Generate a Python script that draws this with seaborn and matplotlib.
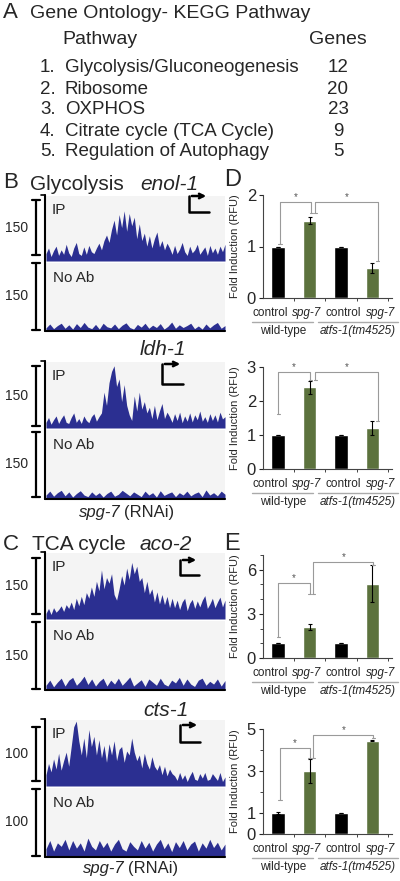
import numpy as np
import pandas as pd
import matplotlib
matplotlib.use("Agg")
import matplotlib.pyplot as plt
import seaborn as sns
from matplotlib.lines import Line2D
from matplotlib.patches import FancyArrowPatch
from matplotlib.ticker import MultipleLocator

sns.set_style("white")
plt.rcParams["font.family"] = ["Liberation Sans", "DejaVu Sans"]

W, H = 400, 881

# -----------------------------
# Data
# -----------------------------
pathways = ["Glycolysis/Gluconeogenesis", "Ribosome", "OXPHOS",
            "Citrate cycle (TCA Cycle)", "Regulation of Autophagy"]
pathway_genes = [12, 20, 23, 9, 5]

# ChIP tracks (reads per bin)
enol_ip = [20, 35, 12, 28, 40, 15, 30, 18, 45, 22, 12, 35, 50, 20, 15, 38, 18, 42, 25, 20, 35, 48,
           30, 55, 70, 50, 85,
           110, 70, 125, 90, 135, 80, 128, 95, 118, 60, 100, 55,
           75, 40, 68, 35, 60, 78, 38, 55, 30, 48,
           35, 18, 42, 20, 32, 50, 25, 15, 40, 22, 30, 45, 18, 28, 38, 15, 42, 22, 35, 18, 40, 25, 45]
enol_noab = [8, 18, 6, 14, 20, 7, 16, 5, 19, 9, 22, 10, 6, 17, 5, 20, 11, 8, 18, 6, 15, 21, 9, 5,
             17, 10, 20, 7, 15, 9, 19, 5, 12, 23, 7, 16, 9, 14, 20, 6, 13, 5, 18, 8, 16, 22, 7, 14]
ldh_ip = [15, 28, 10, 22, 32, 12, 25, 35, 15, 12, 28, 40, 15, 25, 12, 32, 20, 14, 30, 38, 18, 30,
          40, 95, 60, 120, 150, 165, 110, 130, 70, 115, 60, 35, 20, 85, 45, 95, 50, 70, 40,
          55, 25, 60, 22, 45, 65, 25, 42,
          30, 15, 38, 20, 42, 14, 32, 18, 40, 16, 35, 22, 45, 18, 30, 15, 38, 20, 35, 16, 42, 24, 30]
ldh_noab = [10, 20, 7, 16, 22, 8, 18, 5, 14, 21, 10, 6, 18, 9, 16, 5, 14, 20, 7, 12, 22, 15, 8, 18,
            12, 6, 20, 10, 16, 5, 21, 9, 14, 18, 6, 16, 10, 20, 8, 14, 18, 6, 23, 10, 16, 8, 20, 12]
aco_ip = [15, 28, 12, 30, 18, 25, 35, 20, 38, 28, 45, 25, 55, 35, 60, 38, 70, 55,
          85, 60, 100, 75, 130, 80, 110, 95, 120, 65, 50, 80,
          115, 90, 135, 105, 150, 120, 140, 100, 110, 70, 100, 65,
          80, 45, 72, 40, 65, 38, 60, 30, 55,
          30, 50, 25, 45, 55, 22, 42, 52, 28, 48, 32, 50, 62, 28, 40, 55, 30, 45, 58, 32, 50]
aco_noab = [12, 25, 8, 20, 30, 10, 25, 32, 12, 22, 35, 14, 28, 10, 22, 30, 10, 25, 15, 30, 12, 22, 33, 10,
            18, 26, 9, 28, 20, 12, 30, 15, 10, 25, 18, 32, 12, 28, 15, 9, 25, 30, 12, 22, 15, 28, 10, 24]
cts_ip = [20, 40, 25, 48, 30, 58, 28, 45, 60, 35, 70, 105, 115, 80, 55, 85, 50, 100, 70, 88, 55, 82,
          50, 72, 42, 75, 55, 80, 45, 65, 70, 42, 62, 55, 85, 60, 45,
          55, 32, 58, 40, 30, 52, 35, 28, 38, 20, 35, 18, 30, 22,
          18, 10, 24, 12, 20, 8, 18, 26, 12, 10, 22, 14, 24, 10, 12, 22, 16, 10, 24, 8, 16]
cts_noab = [14, 28, 10, 24, 18, 30, 12, 28, 15, 24, 10, 32, 18, 12, 28, 16, 25, 10, 22, 30, 14, 10, 26, 18,
            12, 28, 15, 25, 10, 22, 30, 14, 24, 9, 26, 16, 28, 12, 22, 27, 10, 24, 15, 30, 16, 25, 12, 22]

# qPCR fold induction
conditions = ["wt_control", "wt_spg7", "atfs_control", "atfs_spg7"]
treatments = ["control", "spg-7", "control", "spg-7"]
genotypes = ["wild-type", "atfs-1(tm4525)"]
enol_fold = [1.0, 1.5, 1.0, 0.58]
enol_err = [0.0, 0.07, 0.0, 0.1]
ldh_fold = [1.0, 2.4, 1.0, 1.2]
ldh_err = [0.0, 0.2, 0.0, 0.2]
aco_fold = [1.0, 2.1, 1.0, 5.05]
aco_err = [0.0, 0.23, 0.0, 1.25]
cts_fold = [1.0, 3.0, 1.0, 4.45]
cts_err = [0.04, 0.55, 0.02, 0.03]

BLUE = "#2B2F91"
GREEN = "#5E7B34"

fig = plt.figure(figsize=(W / 100, H / 100), dpi=100)


def px_axes(left, top, right, bottom):
    return fig.add_axes([left / W, 1 - bottom / H, (right - left) / W, (bottom - top) / H])


def ftext(x, y, s, **kw):
    kw.setdefault("va", "center")
    fig.text(x / W, 1 - y / H, s, **kw)


def fline(xs, ys, **kw):
    fig.add_artist(Line2D([x / W for x in xs], [1 - y / H for y in ys], **kw))


# -----------------------------
# Panel A
# -----------------------------
ftext(3, 13, "A", fontsize=16)
ftext(30, 13, "Gene Ontology- KEGG Pathway", fontsize=14)
ftext(62, 40, "Pathway", fontsize=14)
ftext(338, 39, "Genes", fontsize=14, ha="center")
for i, (name, n) in enumerate(zip(pathways, pathway_genes)):
    y = 68 + i * 21
    ftext(40, y, f"{i + 1}.", fontsize=13.5)
    ftext(65, y, name, fontsize=13.5)
    ftext(338, y, str(n), fontsize=13.5, ha="center")


# -----------------------------
# ChIP tracks (B, C)
# -----------------------------
def draw_track(top, bottom, vals, ymax, label):
    ax = px_axes(46, top, 225, bottom)
    ax.set_facecolor("#f4f4f4")
    x = np.arange(len(vals))
    ax.fill_between(x, vals, color=BLUE, lw=0)
    ax.set_xlim(0, len(vals) - 1)
    ax.set_ylim(0, ymax)
    ax.set_xticks([])
    ax.set_yticks([])
    for s in ax.spines.values():
        s.set_visible(False)
    ftext(52 if label == "IP" else 53, top + (14 if label == "IP" else 15), label, fontsize=11)


def scale_bar(y0, y1, ylab, text):
    fline([36, 36], [y0, y1], color="black", lw=1.6)
    fline([32, 40], [y0, y0], color="black", lw=1.6)
    fline([32, 40], [y1, y1], color="black", lw=1.6)
    ftext(28, ylab, text, fontsize=10, ha="right")


def tss_arrow(x0, x1, ytop, ybot):
    fline([x1, x0, x0], [ybot, ybot, ytop], color="black", lw=1.8)
    fig.add_artist(FancyArrowPatch((x0 / W, 1 - ytop / H), (x1 / W, 1 - ytop / H),
                                   transform=fig.transFigure, arrowstyle="->",
                                   mutation_scale=8, lw=1.8, color="black"))


tracks = [
    # ip, noab, ip box, noab box, ymax, scale, ip bar, noab bar, arrow
    (enol_ip, enol_noab, (196, 261), (263, 331), 175, "150", (200, 255), (263, 330), (189, 209, 196, 212)),
    (ldh_ip, ldh_noab, (362, 428), (430, 499), 175, "150", (366, 426), (432, 497), (162, 183, 364, 384)),
    (aco_ip, aco_noab, (553, 619), (621, 690), 175, "150", (558, 614), (622, 689), (180, 199, 560, 575)),
    (cts_ip, cts_noab, (720, 786), (788, 857), 117, "100", (727, 781), (789, 856), (180, 200, 725, 742)),
]
for ip, noab, ipb, nab, ymax, sc, ipbar, nabar, arr in tracks:
    draw_track(ipb[0], ipb[1], ip, ymax, "IP")
    draw_track(nab[0], nab[1], noab, ymax, "No Ab")
    fline([45, 45], [ipb[0] - 1, nab[1]], color="black", lw=1.5)
    fline([41, 45], [ipb[0] - 1, ipb[0] - 1], color="black", lw=1.2)
    fline([44.5, 225], [nab[1], nab[1]], color="black", lw=1.5)
    scale_bar(ipbar[0], ipbar[1], (ipbar[0] + ipbar[1]) / 2, sc)
    scale_bar(nabar[0], nabar[1], (nabar[0] + nabar[1]) / 2, sc)
    tss_arrow(*arr)

ftext(3, 183, "B", fontsize=16)
ftext(30, 185, "Glycolysis", fontsize=15)
ftext(140, 185, "enol-1", fontsize=15, style="italic")
ftext(140, 350, "ldh-1", fontsize=15, style="italic")
ftext(121, 513, "spg-7", fontsize=12, style="italic", ha="right")
ftext(124, 513, "(RNAi)", fontsize=12)
ftext(3, 545, "C", fontsize=16)
ftext(32, 545, "TCA cycle", fontsize=15)
ftext(140, 545, "aco-2", fontsize=15, style="italic")
ftext(143, 710, "cts-1", fontsize=15, style="italic")
ftext(125, 868, "spg-7", fontsize=12, style="italic", ha="right")
ftext(128, 868, "(RNAi)", fontsize=12)

# -----------------------------
# Fold induction bar charts (D, E)
# -----------------------------
label_shift = [-0.25, -0.11, 0.06, 0.27]
group_x = [0.16, 2.52]
underline_x = [(-0.83, 1.12), (1.28, 3.8)]


def draw_bars(top, bottom, fold, err, ylim, yticks, minor, brackets):
    ax = px_axes(263, top, 392, bottom)
    df = pd.DataFrame({"condition": conditions, "treatment": treatments, "fold": fold})
    sns.barplot(data=df, x="condition", y="fold", hue="treatment", order=conditions,
                palette={"control": "black", "spg-7": GREEN}, dodge=False, width=0.42,
                legend=False, ax=ax, errorbar=None)
    ax.errorbar(np.arange(4), fold, yerr=err, fmt="none", ecolor="black",
                elinewidth=0.8, capsize=1.5, capthick=0.8)
    ax.set_xlim(-0.48, 3.62)
    ax.set_ylim(*ylim)
    ax.set_yticks(yticks)
    if minor:
        ax.yaxis.set_minor_locator(MultipleLocator(minor))
    ax.tick_params(axis="y", which="major", labelsize=12, length=3, width=0.8, pad=2, left=True)
    ax.tick_params(axis="y", which="minor", length=2, width=0.6, left=True)
    ax.set_xticks([0.5, 1.5, 2.5, 3.5])
    ax.set_xticklabels([])
    ax.tick_params(axis="x", length=2.5, width=0.6, bottom=True)
    ax.set_xlabel("")
    ax.set_ylabel("Fold Induction (RFU)", fontsize=8)
    ax.yaxis.set_label_coords(-23 / 129, 0.5)
    sns.despine(ax=ax)
    for s in ("left", "bottom"):
        ax.spines[s].set_color("#444444")
        ax.spines[s].set_linewidth(0.8)

    hpx = bottom - top
    trans = ax.get_xaxis_transform()
    for i, (t, dx) in enumerate(zip(treatments, label_shift)):
        ax.text(i + dx, -15 / hpx, t, transform=trans, ha="center", va="center",
                fontsize=8.5, style="italic" if t == "spg-7" else "normal")
    for (a, b) in underline_x:
        ax.plot([a, b], [-24 / hpx, -24 / hpx], transform=trans, color="#aaaaaa",
                lw=1.0, clip_on=False)
    for g, gx in zip(genotypes, group_x):
        ax.text(gx, -33 / hpx, g, transform=trans, ha="center", va="center",
                fontsize=8.5, style="italic" if g.startswith("atfs") else "normal")

    tick = 0.05
    for x1, x2, yb, l1, l2 in brackets:
        ax.plot([x1, x1, x2, x2], [l1, yb, yb, l2], color="#9a9a9a", lw=0.8, clip_on=False)
        ax.plot([x1 - tick, x1 + tick], [l1, l1], color="#9a9a9a", lw=0.8, clip_on=False)
        ax.plot([x2 - tick, x2 + tick], [l2, l2], color="#9a9a9a", lw=0.8, clip_on=False)
        ax.text((x1 + x2) / 2, yb, "*", ha="center", va="bottom", fontsize=7, color="#555555")
    return ax


draw_bars(195, 298, enol_fold, enol_err, (0, 2), [0, 1, 2], None,
          [(0.06, 1.05, 1.87, 1.05, 1.65), (1.18, 3.16, 1.87, 1.65, 0.72)])
draw_bars(367, 469, ldh_fold, ldh_err, (0, 3), [0, 1, 2, 3], None,
          [(0.0, 1.02, 2.85, 1.62, 2.62), (1.18, 3.16, 2.85, 2.62, 1.42)])
draw_bars(555, 658, aco_fold, aco_err, (0, 7), [0, 3, 6], 1,
          [(0.0, 1.0, 5.1, 1.45, 4.35), (1.12, 3.03, 6.55, 4.35, 6.35)])
draw_bars(729, 834, cts_fold, cts_err, (0, 5), [0, 1, 3, 5], 1,
          [(0.06, 1.0, 4.1, 1.6, 3.6), (1.12, 3.03, 4.73, 3.6, 4.55)])

ftext(224, 180, "D", fontsize=17)
ftext(224, 544, "E", fontsize=17)

plt.savefig("out.png", dpi=100)
plt.close()
